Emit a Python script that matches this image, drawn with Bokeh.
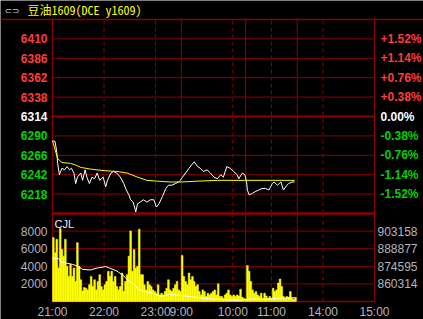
from bokeh.plotting import figure
from bokeh.models import Range1d, Span, Label
from bokeh.embed import file_html
from bokeh.resources import INLINE

# ---------------- data ----------------
SYMBOL_TITLE = "豆油1609(DCE y1609)"
SESSIONS = [("21:00", "23:30"), ("9:00", "10:15"), ("10:30", "11:30"), ("13:30", "15:00")]
TIME_LABELS = ["21:00", "22:00", "23:00", "9:00", "10:00", "11:00", "14:00", "15:00"]
SESSION_BREAKS = ["23:30", "10:15", "11:30"]
HOUR_MARKS = ["22:00", "23:00", "10:00", "11:00", "14:00"]

PREV_SETTLE = 6314
PRICE_TICKS = [6410, 6386, 6362, 6338, 6314, 6290, 6266, 6242, 6218]
PCT_LABELS = ["+1.52%", "+1.14%", "+0.76%", "+0.38%", "0.00%", "-0.38%", "-0.76%", "-1.14%", "-1.52%"]
VOL_TICKS = [2000, 4000, 6000, 8000]
OI_TICKS = [860314, 874595, 888877, 903158]

price_time = ["21:00", "21:03", "21:05", "21:06", "21:08", "21:11", "21:14", "21:17", "21:20", "21:22",
              "21:25", "21:27", "21:29", "21:33", "21:35", "21:38", "21:40", "21:43", "21:46", "21:49",
              "21:52", "21:55", "21:59", "22:02", "22:04", "22:08", "22:11", "22:15", "22:19", "22:23",
              "22:26", "22:29", "22:31", "22:34", "22:37", "22:39", "22:42", "22:46", "22:50", "22:54",
              "22:58", "23:01", "23:04", "23:08", "23:12", "23:15", "23:19", "23:23", "23:27", "23:29",
              "9:00", "9:05", "9:09", "9:15", "9:19", "9:22", "9:26", "9:30", "9:34", "9:38",
              "9:42", "9:46", "9:49", "9:53", "9:57", "10:01", "10:05", "10:07", "10:11", "10:14",
              "10:31", "10:32", "10:34", "10:38", "10:41", "10:45", "10:49", "10:53", "10:57", "11:01",
              "11:03", "11:07", "11:11", "11:14", "11:18", "11:20", "11:24", "11:27"]
price_val = [6284, 6283, 6270, 6256, 6242, 6250, 6248, 6252, 6248, 6250,
             6244, 6231, 6239, 6244, 6235, 6248, 6239, 6231, 6239, 6237,
             6244, 6235, 6239, 6227, 6235, 6244, 6246, 6244, 6239, 6231,
             6223, 6217, 6211, 6208, 6196, 6206, 6208, 6211, 6208, 6211,
             6211, 6202, 6206, 6215, 6225, 6229, 6229, 6231, 6233, 6235,
             6237, 6244, 6250, 6258, 6252, 6250, 6246, 6248, 6244, 6239,
             6237, 6242, 6239, 6252, 6250, 6246, 6242, 6237, 6244, 6242,
             6233, 6223, 6217, 6219, 6221, 6223, 6225, 6225, 6223, 6231,
             6233, 6229, 6233, 6223, 6229, 6231, 6233, 6233]

avg_time = ["21:00", "21:06", "21:11", "21:21", "21:27", "21:33", "21:44", "22:00", "22:15", "22:27",
            "22:39", "22:50", "23:02", "23:17", "9:00", "9:19", "9:42", "10:35", "11:27"]
avg_val = [6284, 6262, 6257, 6256, 6254, 6251, 6249, 6247, 6246, 6244,
           6239, 6235, 6234, 6233, 6233, 6234, 6235, 6235, 6235]

oi_time = ["21:00", "21:07", "21:11", "21:17", "21:23", "21:29", "21:35", "21:44", "21:52", "22:02",
           "22:08", "22:15", "22:23", "22:29", "22:35", "22:40", "22:46", "22:54", "23:06", "23:17",
           "23:29", "9:11", "9:22", "9:34", "9:46", "9:57", "10:09", "10:36", "10:47", "10:59",
           "11:11", "11:27"]
oi_val = [881121, 880876, 877612, 877041, 876225, 874838, 872145, 871574, 873206, 874348,
          872716, 870757, 866678, 862597, 859905, 855825, 854438, 853132, 850358, 851745,
          850929, 849868, 849052, 848236, 847665, 847094, 847094, 848236, 847665, 848236,
          848726, 849052]

VOL_BUCKET_MIN = 2  # one value per 2 trading minutes from 21:00
volume = [7260, 5540, 7070, 3810, 8300, 5920, 5150, 7070, 4000, 2850,
          4195, 2850, 3810, 2280, 6690, 4000, 2470, 1200, 1590, 1510,
          1320, 1900, 2850, 1700, 2470, 1320, 2280, 3050, 1700, 1320,
          1900, 2280, 3430, 2850, 3430, 2280, 2850, 1700, 1320, 1700,
          3240, 1130, 2280, 3050, 5150, 8020, 3430, 5920, 3810, 4000,
          8220, 3050, 3050, 1900, 1320, 2280, 1900, 1700, 1320, 1130,
          940, 1900, 750, 940, 750, 1130, 1510, 2470, 1320, 1130,
          1510, 1900, 2280, 1320, 1130, 5230, 2850, 2280, 1900, 3240,
          2470, 2850, 2280, 1700, 1900, 1130, 750, 1320, 1130, 560,
          940, 750, 940, 1130, 1320, 750, 2010, 560, 560, 360,
          750, 940, 1320, 750, 560, 750, 560, 750, 630, 1400,
          480, 360, 250, 4080, 3430, 2280, 1320, 940, 1130, 750,
          560, 940, 360, 940, 630, 360, 560, 360, 1510, 1130,
          1320, 2090, 2550, 1700, 560, 360, 560, 480, 1130, 360,
          250, 480]

# ---------------- helpers ----------------
def hm(s):
    h, m = s.split(":")
    return int(h) * 60 + int(m)

def trade_min(s):
    t = hm(s)
    off = 0
    for a, b in SESSIONS:
        if hm(a) <= t <= hm(b):
            return off + t - hm(a)
        off += hm(b) - hm(a)
    raise ValueError(s)

TOTAL = sum(hm(b) - hm(a) for a, b in SESSIONS)

GRID = "#8c0000"
RED = "#ff3c3c"
GREEN = "#00d200"
GRAY = "#b4b4bc"
YELLOW = "#ffff00"
FONT = "Liberation Sans"

# layout in pixels
W, H = 423, 319
L, R = 52, 374
TOP, MID, BOT = 19, 213, 301

# price scale
p_step = PRICE_TICKS[0] - PRICE_TICKS[1]
p_lo, p_hi = min(PRICE_TICKS) - p_step, max(PRICE_TICKS) + p_step
pp = (MID - TOP) / (p_hi - p_lo)
# volume scale
v_step = VOL_TICKS[1] - VOL_TICKS[0]
v_hi = VOL_TICKS[-1] + v_step
pv = (BOT - MID) / v_hi
# open interest scale (shares the volume grid)
oi_step = (OI_TICKS[-1] - OI_TICKS[0]) / (len(OI_TICKS) - 1)
oi_lo = OI_TICKS[0] - oi_step
oi_hi = oi_lo + oi_step * v_hi / v_step
po = (BOT - MID) / (oi_hi - oi_lo)

xs = (R - L) / TOTAL
p = figure(width=W, height=H, output_backend="svg", toolbar_location=None,
           x_range=Range1d(-L / xs, TOTAL + (W - R) / xs),
           y_range=Range1d(p_lo - (H - MID) / pp, p_hi + TOP / pp),
           x_axis_location=None, y_axis_location=None,
           min_border=0, min_border_left=0, min_border_right=0, min_border_top=0, min_border_bottom=0,
           background_fill_color="black", border_fill_color="black", outline_line_color=None)
p.grid.visible = False
p.extra_y_ranges = {
    "vol": Range1d(-(H - BOT) / pv, v_hi + MID / pv),
    "oi": Range1d(oi_lo - (H - BOT) / po, oi_hi + MID / po),
}

# ---------------- frame & grid ----------------
p.add_layout(Span(location=p_hi, dimension="width", line_color=GRID, line_width=1.5))
for t in PRICE_TICKS:
    p.segment(x0=0, x1=TOTAL, y0=t, y1=t, line_color=GRID, line_width=2 if t == PREV_SETTLE else 1)
p.segment(x0=0, x1=TOTAL, y0=p_lo, y1=p_lo, line_color=GRID, line_width=2.5)
for v in VOL_TICKS:
    p.segment(x0=0, x1=TOTAL, y0=v, y1=v, line_color=GRID, line_width=1, y_range_name="vol")
p.segment(x0=0, x1=TOTAL, y0=0, y1=0, line_color=GRID, line_width=1.5, y_range_name="vol")

edges = [0, TOTAL] + [trade_min(t) for t in SESSION_BREAKS]
hours = [trade_min(t) for t in HOUR_MARKS]
for xpos in edges:
    p.segment(x0=xpos, x1=xpos, y0=p_lo, y1=p_hi, line_color=GRID, line_width=1)
    p.segment(x0=xpos, x1=xpos, y0=0, y1=v_hi, line_color=GRID, line_width=1, y_range_name="vol")
for xpos in hours:
    p.segment(x0=xpos, x1=xpos, y0=p_lo, y1=p_hi, line_color=GRID, line_width=1, line_dash="4 3")
    p.segment(x0=xpos, x1=xpos, y0=0, y1=v_hi, line_color=GRID, line_width=1, line_dash="4 3",
              y_range_name="vol")

# ---------------- series ----------------
vol_x = [i * VOL_BUCKET_MIN + VOL_BUCKET_MIN / 2 for i in range(len(volume))]
p.vbar(x=vol_x, top=volume, bottom=0, width=VOL_BUCKET_MIN, fill_color=YELLOW,
       line_color=YELLOW, line_width=0.5, y_range_name="vol")
p.line([trade_min(t) for t in oi_time], oi_val, y_range_name="oi", line_color="white", line_width=1)

p.line([trade_min(t) for t in price_time], price_val, line_color="white", line_width=1)
p.line([trade_min(t) for t in avg_time], avg_val, line_color=YELLOW, line_width=1)

# ---------------- texts ----------------
for t, pct in zip(PRICE_TICKS, PCT_LABELS):
    col = RED if t > PREV_SETTLE else ("white" if t == PREV_SETTLE else GREEN)
    p.add_layout(Label(x=L - 5, y=t, x_units="screen", text=str(t), text_align="right",
                       text_baseline="middle", text_color=col, text_font=FONT,
                       text_font_size="12px", text_font_style="bold"))
    p.add_layout(Label(x=R + 6, y=t, x_units="screen", text=pct, text_align="left",
                       text_baseline="middle", text_color=col, text_font=FONT,
                       text_font_size="12px", text_font_style="bold"))

for v in VOL_TICKS:
    p.add_layout(Label(x=L - 5, y=v, x_units="screen", y_range_name="vol", text=str(v),
                       text_align="right", text_baseline="middle", text_color=GRAY,
                       text_font=FONT, text_font_size="12px"))
for o in OI_TICKS:
    p.add_layout(Label(x=R + 3, y=o, x_units="screen", y_range_name="oi", text=str(o),
                       text_align="left", text_baseline="middle", text_color=GRAY,
                       text_font=FONT, text_font_size="12px"))
for t in TIME_LABELS:
    p.add_layout(Label(x=trade_min(t), y=H - 311, y_units="screen", text=t,
                       text_align="center", text_baseline="middle", text_color=GRAY,
                       text_font=FONT, text_font_size="12px"))

p.add_layout(Label(x=L + 2, y=H - 217, x_units="screen", y_units="screen", text="CJL",
                   text_align="left", text_baseline="top", text_color="#e6f2ff",
                   text_font=FONT, text_font_size="11px"))
p.add_layout(Label(x=4, y=H - 10, x_units="screen", y_units="screen", text="⊂⊃",
                   text_align="left", text_baseline="middle", text_color="#c8c8c8",
                   text_font="DejaVu Sans", text_font_size="9px"))
p.add_layout(Label(x=27, y=H - 9, x_units="screen", y_units="screen", text=SYMBOL_TITLE,
                   text_align="left", text_baseline="middle", text_color=YELLOW,
                   text_font="Noto Sans Mono CJK SC", text_font_size="12px"))

open("out.html", "w").write(file_html(p, INLINE))
